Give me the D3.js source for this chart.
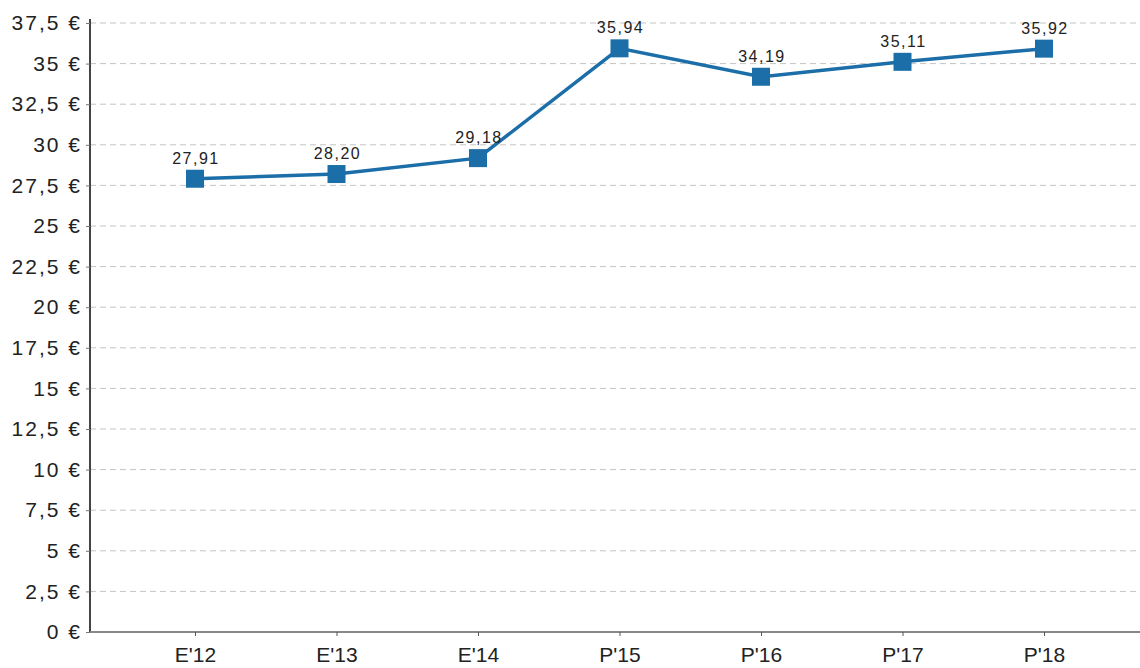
<!DOCTYPE html>
<html>
<head>
<meta charset="utf-8">
<script src="https://cdn.jsdelivr.net/npm/d3@7"></script>
<style>
  body { margin: 0; background: #fff; }
  svg { display: block; font-family: "Liberation Sans", Arial, sans-serif; }
</style>
</head>
<body>
<svg id="chart" width="1140" height="668"></svg>
<script>
// Share price by year (E = estimated, P = projected)
const categories = ["E'12", "E'13", "E'14", "P'15", "P'16", "P'17", "P'18"];
const values = [27.91, 28.20, 29.18, 35.94, 34.19, 35.11, 35.92];
const valueLabels = ["27,91", "28,20", "29,18", "35,94", "34,19", "35,11", "35,92"];
const yTicks = [0, 2.5, 5, 7.5, 10, 12.5, 15, 17.5, 20, 22.5, 25, 27.5, 30, 32.5, 35, 37.5];

const svg = d3.select("#chart");
const plotLeft = 90, plotRight = 1140, plotTop = 23, plotBottom = 632;
const color = "#1b6ea8";

const x = d3.scalePoint().domain(categories).range([195, 1044]);
const y = d3.scaleLinear().domain([0, 37.5]).range([plotBottom, plotTop]);

const fmt = v => String(v).replace(".", ",") + " €";

// horizontal dashed gridlines
svg.append("g").selectAll("line").data(yTicks.slice(1)).join("line")
  .attr("x1", plotLeft).attr("x2", plotRight)
  .attr("y1", d => y(d)).attr("y2", d => y(d))
  .attr("stroke", "#c4c4c4").attr("stroke-width", 1)
  .attr("stroke-dasharray", "6,4");

// y axis
const yAxis = svg.append("g").attr("transform", `translate(${plotLeft},0)`)
  .call(d3.axisLeft(y).tickValues(yTicks).tickFormat(fmt).tickSize(4).tickPadding(4));
yAxis.select(".domain").attr("stroke", "#444").attr("stroke-width", 2)
  .attr("d", `M0,${plotTop - 4}V${plotBottom}`);
yAxis.selectAll(".tick line").attr("stroke", "#777");
yAxis.selectAll("text").attr("font-size", 21).attr("fill", "#222")
  .attr("letter-spacing", 2)
  .attr("font-family", "Liberation Sans, Arial, sans-serif");

// x axis
const xAxis = svg.append("g").attr("transform", `translate(0,${plotBottom})`)
  .call(d3.axisBottom(x).tickSize(4).tickPadding(11));
xAxis.select(".domain").attr("stroke", "#888").attr("stroke-width", 2)
  .attr("d", `M${plotLeft},0H${plotRight}`);
xAxis.selectAll(".tick line").attr("stroke", "#555");
xAxis.selectAll("text").attr("font-size", 21).attr("fill", "#222")
  .attr("font-family", "Liberation Sans, Arial, sans-serif");

// data line
svg.append("path").datum(values)
  .attr("fill", "none").attr("stroke", color).attr("stroke-width", 3.5)
  .attr("d", d3.line().x((d, i) => x(categories[i])).y(d => y(d)));

// square markers
const sz = 18;
svg.append("g").selectAll("rect").data(values).join("rect")
  .attr("x", (d, i) => x(categories[i]) - sz / 2)
  .attr("y", d => y(d) - sz / 2)
  .attr("width", sz).attr("height", sz)
  .attr("fill", color);

// value labels
svg.append("g").selectAll("text").data(values).join("text")
  .attr("x", (d, i) => x(categories[i]) + 1)
  .attr("y", d => y(d) - 15)
  .attr("text-anchor", "middle")
  .attr("font-size", 16).attr("fill", "#222").attr("letter-spacing", 1.5)
  .text((d, i) => valueLabels[i]);
</script>
</body>
</html>
